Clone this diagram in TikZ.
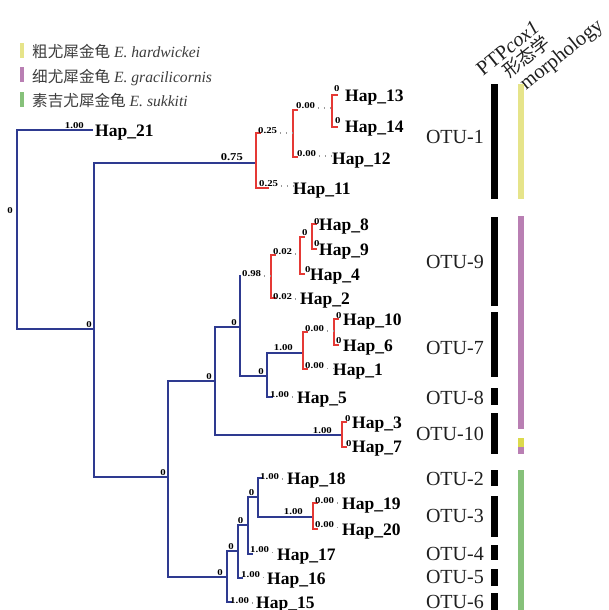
\documentclass[tikz,border=0pt]{standalone}
\usepackage{fontspec}
\setmainfont{Liberation Serif}
\newfontfamily\cjk{Noto Sans CJK SC}
\newfontfamily\valfont[FakeStretch=1.2]{Liberation Serif}
\definecolor{treeblue}{HTML}{2E3A90}
\definecolor{treered}{HTML}{E53935}
\definecolor{hardw}{HTML}{E6E48A}
\definecolor{hardwdark}{HTML}{DCDA4C}
\definecolor{gracil}{HTML}{B97FB3}
\definecolor{sukk}{HTML}{86C17A}
\definecolor{legendtext}{HTML}{3C3C3C}
\begin{document}
\begin{tikzpicture}[x=1pt,y=-1pt,
  bl/.style={draw=treeblue,line width=2.6pt,line cap=rect},
  rd/.style={draw=treered,line width=2.6pt,line cap=rect},
  dt/.style={draw=gray!80,line width=1.3pt,dash pattern=on 1.3pt off 4.7pt,dash phase=3.5pt},
  val/.style={font=\valfont\bfseries\fontsize{9}{9}\selectfont,inner sep=0pt},
  hap/.style={font=\bfseries\fontsize{17.5}{17.5}\selectfont,inner sep=0pt,anchor=base west},
  otu/.style={font=\fontsize{20}{20}\selectfont,inner sep=0pt,anchor=east,text=black!88},
  hdr/.style={font=\fontsize{20.5}{20.5}\selectfont,inner sep=0pt,anchor=base west,rotate=39,text=black!88},
  leg/.style={font=\fontsize{15.6}{15.6}\selectfont,inner sep=0pt,anchor=base west,text=legendtext},
  otubar/.style={fill=black},
]
\useasboundingbox (0,0) rectangle (608,610);

% ---------- legend ----------
\fill[hardw]  (19.5,43) rectangle (23.5,58);
\fill[gracil] (19.5,67) rectangle (23.5,82);
\fill[sukk]   (19.5,92) rectangle (23.5,107);
\node[leg] (lg1) at (32,57)  {{\cjk 粗尤犀金龟} \textit{E. hardwickei}};
\node[leg] (lg2) at (32,82)  {{\cjk 细尤犀金龟} \textit{E. gracilicornis}};
\node[leg] (lg3) at (32,106) {{\cjk 素吉尤犀金龟} \textit{E. sukkiti}};

% ---------- column headers ----------
\node[hdr] (hptp) at (483,77) {PTP\textit{cox1}};
\node[hdr,font=\cjk\fontsize{18}{18}\selectfont] (hxt) at (509,79) {形态学};
\node[hdr] (hmor) at (526,91) {morphology};

% ---------- internal nodes ----------
\coordinate (r0) at (17,229);
\coordinate (nA) at (94,329);
\coordinate (n1) at (256,133);
\coordinate (n1in) at (256,163);
\coordinate (n2) at (293,133);
\coordinate (n3) at (332,111);
\coordinate (nB) at (168,477);
\coordinate (nC) at (215,381);
\coordinate (nD) at (240,327);
\coordinate (dTop) at (240,276);
\coordinate (nE) at (271,276);
\coordinate (nP) at (300,255);
\coordinate (nQ) at (312,237);
\coordinate (nF) at (267,376);
\coordinate (nG) at (303,353);
\coordinate (nR) at (334,332);
\coordinate (nH) at (342,435);
\coordinate (nI) at (227,577);
\coordinate (nJ) at (238,551);
\coordinate (nK) at (248,525);
\coordinate (nL) at (258,497);
\coordinate (nM) at (313,517);

% ---------- leaves ----------
\node[hap] (h21) at (95,136.5) {Hap\_21};
\node[hap] (h13) at (345,101.5) {Hap\_13};
\node[hap] (h14) at (345,132.5) {Hap\_14};
\node[hap] (h12) at (332,164.5) {Hap\_12};
\node[hap] (h11) at (293,194.5) {Hap\_11};
\node[hap] (h8)  at (319,230.5) {Hap\_8};
\node[hap] (h9)  at (319,255.5) {Hap\_9};
\node[hap] (h4)  at (310,280.5) {Hap\_4};
\node[hap] (h2)  at (300,304.5) {Hap\_2};
\node[hap] (h10) at (343,325.5) {Hap\_10};
\node[hap] (h6)  at (343,351.5) {Hap\_6};
\node[hap] (h1)  at (333,375.5) {Hap\_1};
\node[hap] (h5)  at (297,403.5) {Hap\_5};
\node[hap] (h3)  at (352,428.5) {Hap\_3};
\node[hap] (h7)  at (352,452.5) {Hap\_7};
\node[hap] (h18) at (287,484.5) {Hap\_18};
\node[hap] (h19) at (342,509.5) {Hap\_19};
\node[hap] (h20) at (342,535)   {Hap\_20};
\node[hap] (h17) at (277,560)   {Hap\_17};
\node[hap] (h16) at (267,584)   {Hap\_16};
\node[hap] (h15) at (256,608.5) {Hap\_15};

% ---------- blue backbone ----------
\coordinate (t21) at (92,130);
\coordinate (t5)  at (272,397);
\coordinate (t18) at (262,478);
\coordinate (t17) at (252,554);
\coordinate (t16) at (242,578);
\coordinate (t15) at (231,602);
\draw[bl] (r0) |- (t21);
\draw[bl] (r0) |- (nA);
\draw[bl] (nA) |- (n1in);
\draw[bl] (nA) |- (nB);
\draw[bl] (nB) |- (nC);
\draw[bl] (nB) |- (nI);
\draw[bl] (nC) |- (nD);
\draw[bl] (nC) |- (nH);
\draw[bl] (nD) -- (dTop);
\draw[bl] (nD) |- (nF);
\draw[bl] (nF) |- (nG);
\draw[bl] (nF) |- (t5);
\draw[bl] (nI) |- (nJ);
\draw[bl] (nI) |- (t15);
\draw[bl] (nJ) |- (nK);
\draw[bl] (nJ) |- (t16);
\draw[bl] (nK) |- (nL);
\draw[bl] (nK) |- (t17);
\draw[bl] (nL) |- (t18);
\draw[bl] (nL) |- (nM);

% ---------- red clades ----------
\coordinate (s1t) at (260,133);  \coordinate (s1b) at (268,188);
\coordinate (s2t) at (297,110);  \coordinate (s2b) at (297,157);
\coordinate (s3t) at (337,95);   \coordinate (s3b) at (337,127);
\coordinate (sEt) at (275,255);  \coordinate (sEb) at (275,298);
\coordinate (sPt) at (304,237);  \coordinate (sPb) at (304,274);
\coordinate (sQt) at (316,224);  \coordinate (sQb) at (316,249);
\coordinate (sGt) at (307,332);  \coordinate (sGb) at (307,369);
\coordinate (sRt) at (338,319);  \coordinate (sRb) at (338,345);
\coordinate (sHt) at (346,422);  \coordinate (sHb) at (346,447);
\coordinate (sMt) at (317,503);  \coordinate (sMb) at (317,529);
\draw[rd] (s1t) -| (n1) |- (s1b);
\draw[rd] (s2t) -| (n2) |- (s2b);
\draw[rd] (s3t) -| (n3) |- (s3b);
\draw[rd] (sEt) -| (nE) |- (sEb);
\draw[rd] (sPt) -| (nP) |- (sPb);
\draw[rd] (sQt) -| (nQ) |- (sQb);
\draw[rd] (sGt) -| (nG) |- (sGb);
\draw[rd] (sRt) -| (nR) |- (sRb);
\draw[rd] (sHt) -| (nH) |- (sHb);
\draw[rd] (sMt) -| (nM) |- (sMb);

% ---------- branch values ----------
\node[val,anchor=base east] (v21) at (84,128) {1.00};
\node[val,anchor=east]      (vr0) at (13,211) {0};
\node[val,anchor=base east] (vA)  at (92,327) {0};
\node[val,anchor=base east,font=\valfont\bfseries\fontsize{10.5}{10.5}\selectfont] (v1) at (243,160) {0.75};
\node[val,anchor=base west] (v2)  at (258,133) {0.25};
\node[val,anchor=base west] (v11) at (259,186) {0.25};
\node[val,anchor=base west] (v3)  at (296,108) {0.00};
\node[val,anchor=base west] (v12) at (297,156) {0.00};
\node[val,anchor=base west] (v13) at (334,92)  {0};
\node[val,anchor=base west] (v14) at (335,123) {0};
\node[val,anchor=base east] (vB)  at (166,475) {0};
\node[val,anchor=base east] (vC)  at (212,379) {0};
\node[val,anchor=base east] (vD)  at (237,325) {0};
\node[val,anchor=base west] (vE)  at (242,276) {0.98};
\node[val,anchor=base west] (vP)  at (273,254) {0.02};
\node[val,anchor=base west] (v2b) at (273,299) {0.02};
\node[val,anchor=base west] (vQ)  at (302,235) {0};
\node[val,anchor=base west] (v4)  at (305,272) {0};
\node[val,anchor=base west] (v8)  at (314,224) {0};
\node[val,anchor=base west] (v9)  at (314,246) {0};
\node[val,anchor=base east] (vF)  at (264,374) {0};
\node[val,anchor=base east] (vG)  at (293,350) {1.00};
\node[val,anchor=base west] (vR)  at (305,331) {0.00};
\node[val,anchor=base west] (v1b) at (305,368.5) {0.00};
\node[val,anchor=base west] (v10) at (336,318) {0};
\node[val,anchor=base west] (v6)  at (336,343) {0};
\node[val,anchor=base west] (v5)  at (270,397) {1.00};
\node[val,anchor=base east] (vH)  at (332,433) {1.00};
\node[val,anchor=base west] (v3b) at (345,421) {0};
\node[val,anchor=base west] (v7)  at (346,446) {0};
\node[val,anchor=base east] (vI)  at (223,575) {0};
\node[val,anchor=base east] (vJ)  at (234,549) {0};
\node[val,anchor=base east] (vK)  at (243.5,523) {0};
\node[val,anchor=base east] (vL)  at (254.5,495) {0};
\node[val,anchor=base east] (vM)  at (303,514) {1.00};
\node[val,anchor=base west] (v18) at (260,479) {1.00};
\node[val,anchor=base west] (v19) at (315,503) {0.00};
\node[val,anchor=base west] (v20) at (315,527.5) {0.00};
\node[val,anchor=base west] (v17) at (250,552.5) {1.00};
\node[val,anchor=base west] (v16) at (241,577.5) {1.00};
\node[val,anchor=base west] (v15) at (230,603) {1.00};

% ---------- dotted short branches ----------
\draw[dt] (v2.base east)  -- (v2.base east -| n2);
\draw[dt] (v3.base east)  -- (v3.base east -| n3);
\draw[dt] (v12.base east) -- (v12.base east -| h12.west);
\draw[dt] (v11.base east) -- (v11.base east -| h11.west);
\draw[dt] (vE.base east)  -- (vE.base east -| nE);
\draw[dt] (vP.base east)  -- (vP.base east -| nP);
\draw[dt] (v2b.base east) -- (v2b.base east -| h2.west);
\draw[dt] (vR.base east)  -- (vR.base east -| nR);
\draw[dt] (v1b.base east) -- (v1b.base east -| h1.west);
\draw[dt] (v5.base east)  -- (v5.base east -| h5.west);
\draw[dt] (v18.base east) -- (v18.base east -| h18.west);
\draw[dt] (v19.base east) -- (v19.base east -| h19.west);
\draw[dt] (v20.base east) -- (v20.base east -| h20.west);
\draw[dt] (v17.base east) -- (v17.base east -| h17.west);
\draw[dt] (v16.base east) -- (v16.base east -| h16.west);
\draw[dt] (v15.base east) -- (v15.base east -| h15.west);

% ---------- OTU labels and PTP bars ----------
\node[otu] (o1)  at (484,137) {OTU-1};
\node[otu] (o9)  at (484,262) {OTU-9};
\node[otu] (o7)  at (484,348) {OTU-7};
\node[otu] (o8)  at (484,398) {OTU-8};
\node[otu] (o10) at (484,434) {OTU-10};
\node[otu] (o2)  at (484,479) {OTU-2};
\node[otu] (o3)  at (484,516) {OTU-3};
\node[otu] (o4)  at (484,554) {OTU-4};
\node[otu] (o5)  at (484,577) {OTU-5};
\node[otu] (o6)  at (484,602) {OTU-6};
\fill[otubar] (491,84)  rectangle (497.5,199);
\fill[otubar] (491,217) rectangle (497.5,306);
\fill[otubar] (491,312) rectangle (497.5,377);
\fill[otubar] (491,388) rectangle (497.5,405);
\fill[otubar] (491,413) rectangle (497.5,454);
\fill[otubar] (491,470) rectangle (497.5,486);
\fill[otubar] (491,496) rectangle (497.5,537);
\fill[otubar] (491,545) rectangle (497.5,560);
\fill[otubar] (491,569) rectangle (497.5,586);
\fill[otubar] (491,593) rectangle (497.5,610);

% ---------- morphology bars ----------
\fill[hardw]     (517.5,84)  rectangle (524,199);
\fill[gracil]    (517.5,216) rectangle (524,429);
\fill[hardwdark] (517.5,438) rectangle (524,446.5);
\fill[gracil]    (517.5,446.5) rectangle (524,454);
\fill[sukk]      (517.5,470) rectangle (524,610);
\end{tikzpicture}
\end{document}
